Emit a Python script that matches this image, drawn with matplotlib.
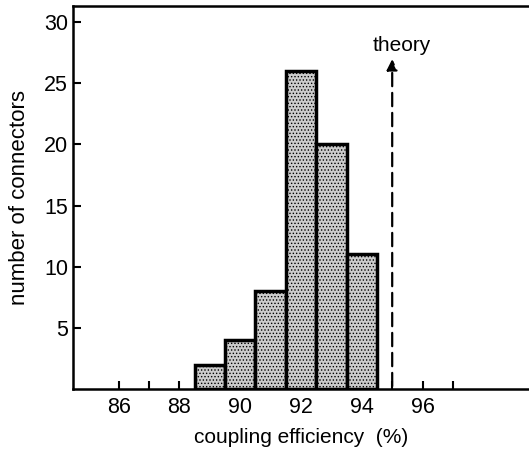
import matplotlib.pyplot as plt
import numpy as np

plt.rcParams['font.family'] = ['Liberation Sans', 'DejaVu Sans']
plt.rcParams['hatch.linewidth'] = 0.6

# histogram bins (left edges, width 1 %) and counts
bin_left = [88.5, 89.5, 90.5, 91.5, 92.5, 93.5]
counts = [2, 4, 8, 26, 20, 11]
theory = 95.0
x_major = [86, 88, 90, 92, 94, 96]
x_minor = list(range(86, 98))
y_ticks = [5, 10, 15, 20, 25, 30]

fig = plt.figure(figsize=(5.29, 4.53), dpi=100)
ax = fig.add_axes([0.138, 0.1413, 0.862, 0.845])

ax.bar(bin_left, counts, width=1.0, align='edge', facecolor='#cccccc',
       edgecolor='black', linewidth=2.5, hatch='.....', zorder=2)

ax.annotate('', xy=(theory, 27.2), xytext=(theory, 0),
            arrowprops=dict(arrowstyle='-|>', color='black', lw=1.6,
                            linestyle=(0, (6, 3)), mutation_scale=16))
ax.text(theory + 0.3, 28.1, 'theory', ha='center', va='center',
        fontsize=15)

ax.set_xlim(84.5, 99.5)
ax.set_ylim(0, 31.3)
ax.set_xticks(x_major)
ax.set_xticks(x_minor, minor=True)
ax.set_yticks(y_ticks)
ax.tick_params(axis='both', direction='in', labelsize=15.5, width=1.5, length=6)
ax.tick_params(axis='x', which='minor', direction='in', width=1.5, length=6)
ax.tick_params(axis='x', pad=6)

for side in ['left', 'bottom', 'top']:
    ax.spines[side].set_linewidth(1.8)
ax.spines['right'].set_visible(False)

ax.set_xlabel('coupling efficiency  (%)', fontsize=15, labelpad=7)
ax.set_ylabel('number of connectors', fontsize=16, labelpad=10)

fig.savefig('out.png', dpi=100)
